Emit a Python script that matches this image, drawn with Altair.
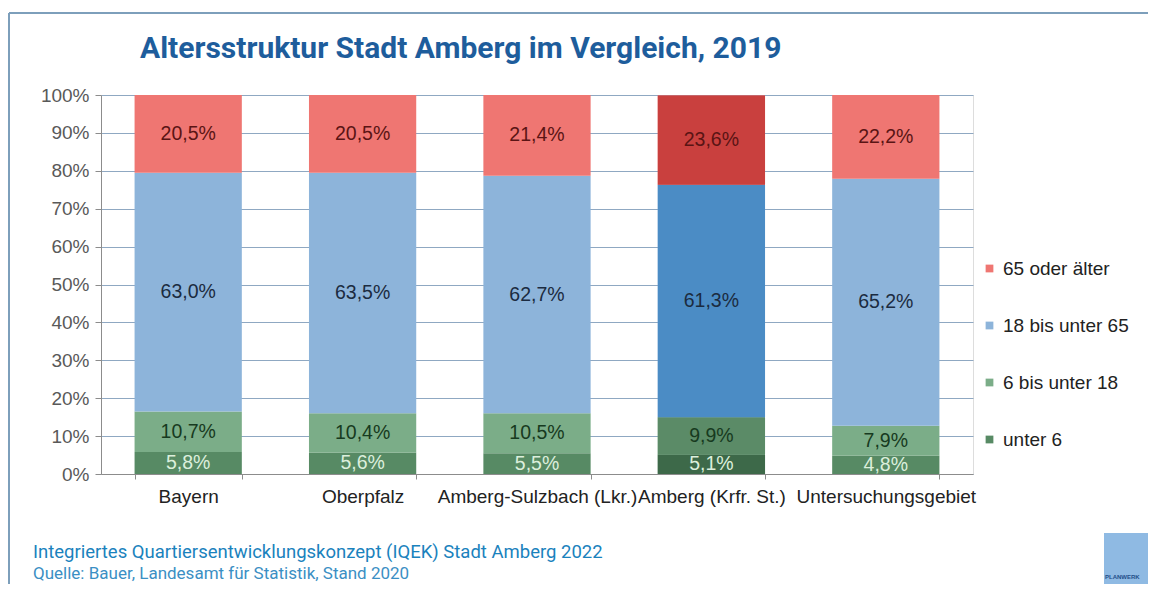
import altair as alt
import pandas as pd

regions = ["Bayern", "Oberpfalz", "Amberg-Sulzbach (Lkr.)", "Amberg (Krfr. St.)", "Untersuchungsgebiet"]
groups = ["unter 6", "6 bis unter 18", "18 bis unter 65", "65 oder älter"]  # stacking order, bottom to top
unter6 = [5.8, 5.6, 5.5, 5.1, 4.8]
bis18 = [10.7, 10.4, 10.5, 9.9, 7.9]
bis65 = [63.0, 63.5, 62.7, 61.3, 65.2]
ab65 = [20.5, 20.5, 21.4, 23.6, 22.2]
highlight = "Amberg (Krfr. St.)"
y_ticks = [0, 10, 20, 30, 40, 50, 60, 70, 80, 90, 100]

legend_order = ["65 oder älter", "18 bis unter 65", "6 bis unter 18", "unter 6"]
light_colors = ["#ef7672", "#8db4da", "#7bad88", "#578a64"]
dark_colors = {"65 oder älter": "#c9403e", "18 bis unter 65": "#4b8cc5", "6 bis unter 18": "#5b8b67", "unter 6": "#3d6949"}
text_colors = {"65 oder älter": "#5a1414", "18 bis unter 65": "#1b2b40", "6 bis unter 18": "#173a20", "unter 6": "#dcefdc"}

title_text = "Altersstruktur Stadt Amberg im Vergleich, 2019"
footer1 = "Integriertes Quartiersentwicklungskonzept (IQEK) Stadt Amberg 2022"
footer2 = "Quelle: Bauer, Landesamt für Statistik, Stand 2020"

series = [unter6, bis18, bis65, ab65]
rows = []
for gi, (g, vals) in enumerate(zip(groups, series)):
    for r, v in zip(regions, vals):
        rows.append({"region": r, "group": g, "value": v, "order": gi,
                     "dark": dark_colors[g], "tcol": text_colors[g]})
df = pd.DataFrame(rows)

W, H = 872, 379
FONT = "Liberation Sans, Arial, sans-serif"
FS = 19

base = alt.Chart(df).transform_stack(
    stack="value", groupby=["region"], as_=["y0", "y1"],
    sort=[alt.SortField("order", order="ascending")]
).transform_calculate(
    mid="(datum.y0 + datum.y1) / 2",
    label="replace(format(datum.value, '.1f'), '.', ',') + '%'"
)

x_scale = alt.Scale(paddingInner=0.385, paddingOuter=0.1925)
x_axis = alt.Axis(labelAngle=0, labelLimit=0, labelOverlap=False, labelFlush=False,
                  tickBand="extent", tickSize=5, tickColor="#8c8c8c",
                  domainColor="#8c8c8c", labelPadding=8, labelFontSize=FS,
                  labelColor="#222222", labelFont=FONT, grid=False)
y_scale = alt.Scale(domain=[0, 100], clamp=True, nice=False)
y_axis = alt.Axis(values=y_ticks, labelExpr="datum.value + '%'", labelOverlap=False,
                  labelFontSize=FS, labelColor="#595959", labelFont=FONT,
                  tickSize=6, tickColor="#8c8c8c", domainColor="#8c8c8c",
                  labelPadding=6, gridColor="#8fa8c2", gridWidth=1.2)


def xe():
    return alt.X("region:N", sort=regions, title=None, scale=x_scale, axis=x_axis)


def ye(field):
    return alt.Y(field, scale=y_scale, title=None, axis=y_axis)


bars = base.mark_bar().encode(
    x=xe(),
    y=ye("y0:Q"),
    y2="y1:Q",
    color=alt.Color("group:N", scale=alt.Scale(domain=legend_order, range=light_colors),
                    legend=alt.Legend(title=None, orient="none", legendX=879, legendY=164,
                                      symbolType="square", symbolSize=60, symbolStrokeWidth=0,
                                      labelFontSize=FS, labelFont=FONT, labelColor="#222222",
                                      rowPadding=37, labelOffset=4, padding=0))
)

bars_hl = base.transform_filter(alt.datum.region == highlight).mark_bar().encode(
    x=xe(),
    y=ye("y0:Q"),
    y2="y1:Q",
    color=alt.Color("dark:N", scale=None, legend=None)
)

labels = base.mark_text(fontSize=FS + 0.5, font=FONT, baseline="middle").encode(
    x=xe(),
    y=ye("mid:Q"),
    text="label:N",
    color=alt.Color("tcol:N", scale=None, legend=None)
)

TFONT = "Roboto, sans-serif"
title = alt.Chart(pd.DataFrame({"t": [title_text]})).mark_text(
    fontSize=30, fontWeight="bold", color="#1e5d9c", font=TFONT,
    align="left", baseline="alphabetic").encode(
    x=alt.value(39), y=alt.value(-37), text="t:N")

f1 = alt.Chart(pd.DataFrame({"t": [footer1]})).mark_text(
    fontSize=18.5, color="#1a82bd", font=TFONT,
    align="left", baseline="alphabetic").encode(x=alt.value(-68), y=alt.value(463), text="t:N")
f2 = alt.Chart(pd.DataFrame({"t": [footer2]})).mark_text(
    fontSize=17, color="#3b8fc4", font=TFONT,
    align="left", baseline="alphabetic").encode(x=alt.value(-68), y=alt.value(484), text="t:N")

border_left = alt.Chart(pd.DataFrame({"a": [0]})).mark_rule(color="#7d9fbb", strokeWidth=2).encode(
    x=alt.value(-92), y=alt.value(-82), y2=alt.value(500))
border_top = alt.Chart(pd.DataFrame({"a": [0]})).mark_rule(color="#7d9fbb", strokeWidth=2).encode(
    x=alt.value(-92), x2=alt.value(1050), y=alt.value(-82))

logo = alt.Chart(pd.DataFrame({"a": [0]})).mark_rect(color="#8fbae3").encode(
    x=alt.value(1003), x2=alt.value(1047), y=alt.value(438), y2=alt.value(500))
logo_t = alt.Chart(pd.DataFrame({"t": ["PLANWERK"]})).mark_text(
    fontSize=6, fontWeight="bold", color="#1f4f8a", align="left", font=FONT).encode(
    x=alt.value(1004), y=alt.value(482), text="t:N")

chart = alt.layer(bars, bars_hl, labels, title, f1, f2, border_left, border_top, logo, logo_t).resolve_scale(
    color="independent"
).properties(
    width=W, height=H,
    padding={"left": 93, "top": 87, "right": 1140 - 93 - W, "bottom": 576 - 87 - H},
    autosize=alt.AutoSizeParams(type="none")
).configure_view(strokeOpacity=0, strokeWidth=0).configure(background="#ffffff")

chart.save("out.html", embed_options={"renderer": "svg", "actions": False})
